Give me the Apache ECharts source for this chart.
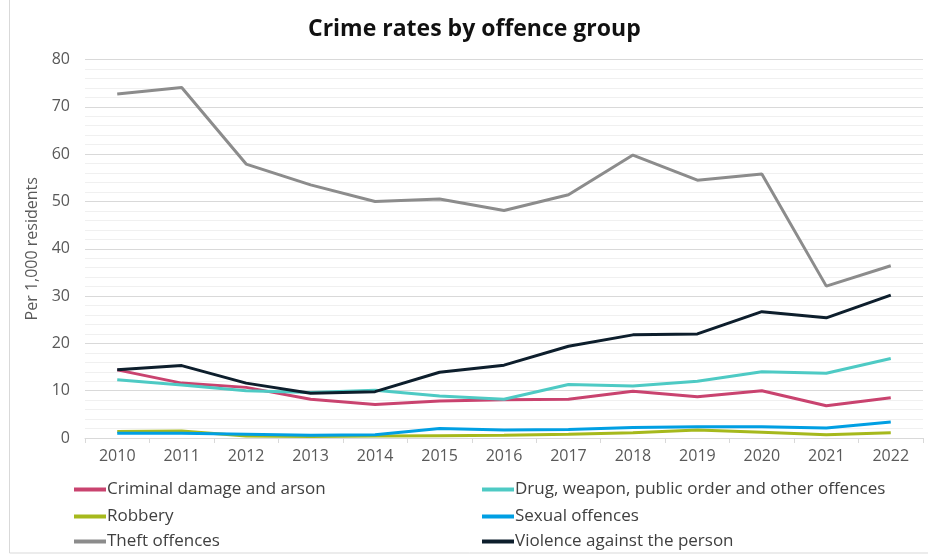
<!DOCTYPE html>
<html><head><meta charset="utf-8">
<script src="https://cdn.jsdelivr.net/npm/echarts@6/dist/echarts.min.js"></script>
<style>html,body{margin:0;padding:0;background:#fff}#c{width:928px;height:558px}</style>
</head><body><div id="c"></div>
<script>
const years = ['2010','2011','2012','2013','2014','2015','2016','2017','2018','2019','2020','2021','2022'];
const criminalDamage = [14.4,11.6,10.7,8.2,7.1,7.8,8.1,8.2,9.9,8.7,10.0,6.8,8.5];
const drugWeapon = [12.3,11.2,10.0,9.6,10.1,8.9,8.2,11.3,11.0,12.0,14.0,13.7,16.8];
const robbery = [1.4,1.5,0.4,0.3,0.4,0.5,0.6,0.8,1.1,1.7,1.2,0.7,1.1];
const sexual = [1.0,1.0,0.8,0.6,0.7,2.0,1.7,1.8,2.2,2.4,2.4,2.1,3.4];
const theft = [72.7,74.1,57.9,53.5,50.0,50.5,48.1,51.4,59.8,54.5,55.8,32.1,36.4];
const violence = [14.4,15.3,11.6,9.45,9.8,13.9,15.4,19.4,21.8,22.0,26.7,25.4,30.2];
const seriesNames = ['Criminal damage and arson','Drug, weapon, public order and other offences','Robbery','Sexual offences','Theft offences','Violence against the person'];
const seriesData = [criminalDamage, drugWeapon, robbery, sexual, theft, violence];
const colors = ['#c9436f','#4ecac4','#a6b91c','#009fe3','#8c8c8c','#0d1e2c'];
const font = '"Open Sans", Lato, sans-serif';
const legendPos = [[74,481],[482,481],[74,508],[482,508],[74,533],[482,533]];
const chart = echarts.init(document.getElementById('c'));
chart.setOption({
  animation:false,
  color: colors,
  title:{text:'Crime rates by offence group', left:303, top:13,
    textStyle:{fontFamily:font, fontSize:23, fontWeight:'bold', color:'#111'}},
  graphic:[{type:'rect', shape:{x:9.5,y:-5,width:940,height:558}, style:{fill:'none', stroke:'#d9d9d9', lineWidth:1}, silent:true}],
  legend: seriesNames.map((n,i)=>({left:legendPos[i][0], top:legendPos[i][1], data:[n], icon:'rect',
    itemWidth:32, itemHeight:4, itemGap:0, padding:0,
    textStyle:{fontFamily:font, fontSize:17, color:'#404040', padding:[0,0,0,-4]}})),
  grid:{left:85, right:5, top:59.5, bottom:120},
  xAxis:{type:'category', data:years, boundaryGap:true,
    axisLine:{lineStyle:{color:'#d9d9d9'}},
    axisTick:{show:true, length:5, lineStyle:{color:'#d9d9d9'}},
    axisLabel:{fontFamily:font, fontSize:16, color:'#595959', margin:10}},
  yAxis:{type:'value', min:0, max:80, interval:10,
    name:'Per 1,000 residents', nameLocation:'middle', nameGap:36,
    nameTextStyle:{fontFamily:font, fontSize:16, color:'#595959'},
    axisLine:{show:false}, axisTick:{show:false},
    axisLabel:{fontFamily:font, fontSize:16, color:'#595959', margin:15},
    splitLine:{lineStyle:{color:'#d9d9d9'}},
    minorTick:{show:false, splitNumber:5},
    minorSplitLine:{show:true, lineStyle:{color:'#f0f0f0'}}},
  series: seriesNames.map((n,i)=>({name:n, type:'line', data:seriesData[i], symbol:'none',
    lineStyle:{width:3, color:colors[i]}, itemStyle:{color:colors[i]}, z: i===5?3:2}))
});
</script></body></html>
